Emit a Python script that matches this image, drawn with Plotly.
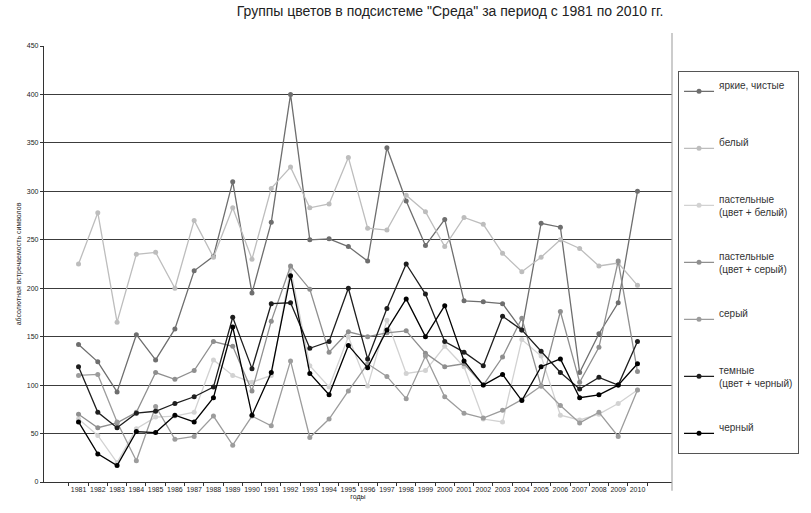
import plotly.graph_objects as go

years = [str(y) for y in range(1981, 2011)]

yarkie = [142,124,93,152,126,158,218,233,310,195,268,400,250,251,243,228,345,290,244,271,187,186,184,157,267,263,113,153,185,300]
belyi = [225,278,165,235,237,200,270,232,283,230,303,325,283,287,335,262,260,296,279,243,273,266,236,217,232,250,241,223,226,203]
past_bel = [65,48,20,55,67,68,72,126,110,103,110,220,120,98,150,99,167,112,115,140,119,65,62,147,130,69,64,70,81,95]
past_ser = [70,56,61,72,113,106,115,145,140,94,166,223,199,134,155,150,154,156,133,119,122,100,129,169,99,176,103,139,228,114]
seryi = [110,111,62,22,78,44,47,68,38,68,58,125,46,65,94,122,109,86,130,88,71,66,74,85,99,79,61,72,47,95]
temnye = [119,72,56,71,73,81,88,98,170,117,184,185,138,145,200,127,179,225,194,145,134,120,171,157,135,113,96,108,100,145]
chernyi = [62,29,17,52,51,69,62,87,160,69,113,213,112,90,141,118,157,189,150,182,125,100,111,84,119,127,87,90,100,122]

names = ["яркие, чистые<br> ", "белый<br> ", "пастельные<br>(цвет + белый)", "пастельные<br>(цвет + серый)",
         "серый<br> ", "темные<br>(цвет + черный)", "черный<br> "]
series = [yarkie, belyi, past_bel, past_ser, seryi, temnye, chernyi]
colors = ["#6e6e6e", "#bdbdbd", "#d2d2d2", "#8f8f8f", "#9c9c9c", "#1e1e1e", "#000000"]

fig = go.Figure()
for i, (nm, vals, c) in enumerate(zip(names, series, colors)):
    fig.add_trace(go.Scatter(
        x=years, y=vals, name=nm, mode="lines+markers",
        line=dict(color=c, width=1.3),
        marker=dict(color=c, size=5, symbol="circle"),
        legendgroup="g%d" % i,
    ))

fig.update_layout(
    width=811, height=513,
    margin=dict(l=44, r=139, t=46, b=31),
    paper_bgcolor="white", plot_bgcolor="white",
    font=dict(family="Liberation Sans, Arial, sans-serif", color="#222"),
    title=dict(text='Группы цветов в подсистеме "Среда" за период с 1981 по 2010 гг.',
               x=0.555, xanchor="center", y=0.987, yanchor="top",
               font=dict(size=14, color="#222")),
    showlegend=True,
    legend=dict(x=1.0096, xanchor="left", y=0.943, yanchor="top",
                bordercolor="#555", borderwidth=1, bgcolor="white",
                font=dict(size=10, color="#333"),
                tracegroupgap=28, itemwidth=30),
    xaxis=dict(type="category", showgrid=False, showline=True, linecolor="#333", linewidth=1.2,
               ticks="outside", ticklen=3, tickcolor="#333", tickson="boundaries",
               tickfont=dict(size=7), tickangle=0, mirror=False,
               title=dict(text="годы", font=dict(size=7), standoff=2)),
    yaxis=dict(range=[0, 450], dtick=50, showgrid=True, gridcolor="#3c3c3c", gridwidth=1.3,
               showline=True, linecolor="#333", linewidth=1.2, ticks="outside", ticklen=3,
               tickcolor="#333", tickfont=dict(size=7), zeroline=False,
               title=dict(text="абсолютная встречаемость символов", font=dict(size=7), standoff=4)),
)
fig.add_shape(type="line", xref="paper", yref="paper", x0=1, x1=1, y0=-0.02, y1=1.03,
              line=dict(color="#aaa", width=1.2))

fig.write_html("out.html")
